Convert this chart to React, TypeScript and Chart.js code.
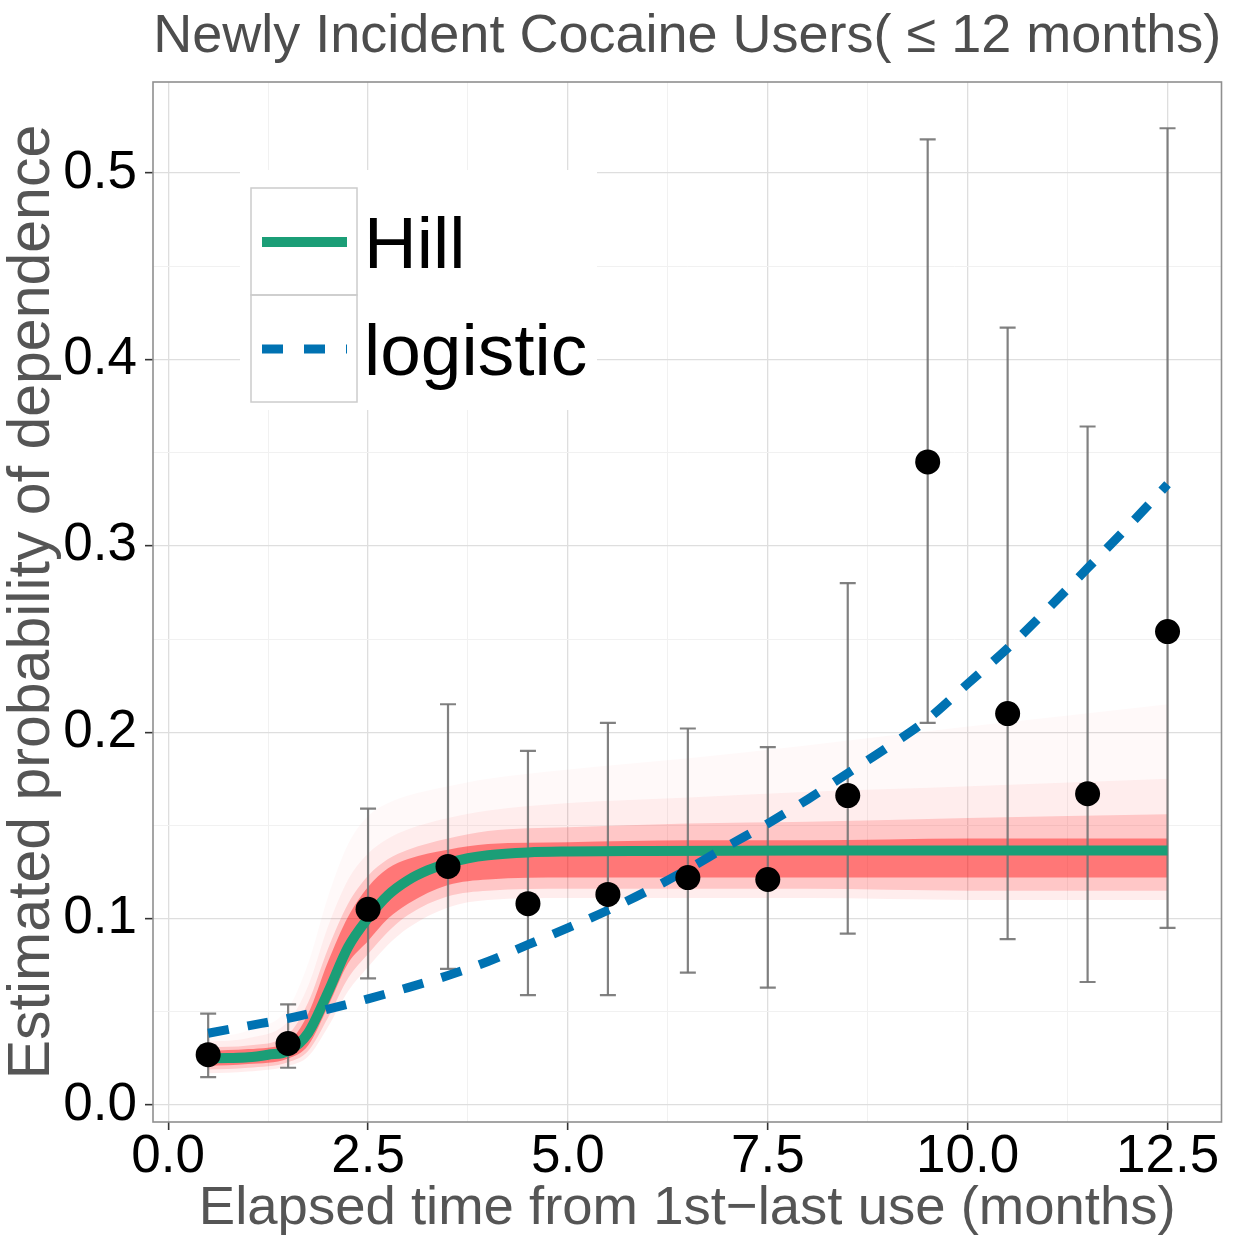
import React, { useEffect, useRef } from "react";
import { Chart, registerables } from "chart.js";

Chart.register(...registerables);

const FONT = "'Liberation Sans', Arial, Helvetica, sans-serif";

const TITLE = "Newly Incident Cocaine Users( \u2264 12 months)";
const X_TITLE = "Elapsed time from 1st\u2212last use (months)";
const Y_TITLE = "Estimated probability of dependence";

// observed proportions with error bars
const pointX = [0.5, 1.5, 2.5, 3.5, 4.5, 5.5, 6.5, 7.5, 8.5, 9.5, 10.5, 11.5, 12.5];
const pointY = [0.027, 0.033, 0.105, 0.128, 0.108, 0.113, 0.122, 0.121, 0.166, 0.345, 0.21, 0.167, 0.254];
const errLow = [0.015, 0.02, 0.068, 0.073, 0.059, 0.059, 0.071, 0.063, 0.092, 0.205, 0.089, 0.066, 0.095];
const errHigh = [0.049, 0.054, 0.159, 0.215, 0.19, 0.205, 0.202, 0.192, 0.28, 0.518, 0.417, 0.364, 0.524];

// Hill fit
const hillX = [0.5, 0.75, 1.0, 1.25, 1.5, 1.75, 2.0, 2.25, 2.5, 2.75, 3.0, 3.25, 3.5, 3.75, 4.0, 4.5, 5.0, 6.0, 8.0, 10.0, 12.5];
const hillY = [0.025, 0.0252, 0.0256, 0.027, 0.029, 0.0386, 0.0606, 0.0847, 0.1003, 0.1126, 0.1206, 0.126, 0.1297, 0.1324, 0.134, 0.1355, 0.136, 0.1363, 0.1365, 0.1365, 0.1365];

// logistic fit
const logX = [0.5, 1.0, 1.5, 2.0, 2.5, 3.0, 3.5, 4.0, 4.5, 5.0, 5.5, 6.0, 6.5, 7.0, 7.5, 8.0, 8.5, 9.0, 9.5, 10.0, 10.5, 11.0, 11.5, 12.0, 12.5];
const logY = [0.0385, 0.0425, 0.0465, 0.0515, 0.057, 0.063, 0.0695, 0.077, 0.086, 0.095, 0.1045, 0.115, 0.1265, 0.139, 0.151, 0.164, 0.178, 0.192, 0.207, 0.226, 0.245, 0.266, 0.288, 0.31, 0.333];

// posterior draw bands (red cloud)
const bandX = [0.5, 1.0, 1.5, 1.75, 2.0, 2.25, 2.5, 2.75, 3.0, 3.5, 4.0, 5.0, 6.5, 8.0, 10.0, 12.5];
const coreLow = [0.021, 0.022, 0.025, 0.032, 0.053, 0.076, 0.088, 0.1, 0.108, 0.118, 0.121, 0.122, 0.122, 0.122, 0.122, 0.122];
const coreHigh = [0.029, 0.03, 0.034, 0.049, 0.077, 0.101, 0.117, 0.127, 0.132, 0.137, 0.14, 0.141, 0.142, 0.142, 0.143, 0.143];
const midLow = [0.019, 0.02, 0.023, 0.029, 0.047, 0.068, 0.081, 0.093, 0.102, 0.112, 0.115, 0.116, 0.116, 0.116, 0.115, 0.115];
const midHigh = [0.031, 0.032, 0.038, 0.055, 0.084, 0.108, 0.123, 0.132, 0.137, 0.143, 0.147, 0.149, 0.151, 0.152, 0.154, 0.156];
const outerLow = [0.017, 0.018, 0.021, 0.026, 0.042, 0.061, 0.074, 0.086, 0.095, 0.106, 0.11, 0.111, 0.111, 0.111, 0.11, 0.11];
const outerHigh = [0.034, 0.036, 0.045, 0.064, 0.096, 0.121, 0.135, 0.143, 0.148, 0.154, 0.158, 0.162, 0.165, 0.168, 0.171, 0.175];
const faintHigh = [0.036, 0.04, 0.052, 0.076, 0.112, 0.14, 0.155, 0.162, 0.166, 0.171, 0.175, 0.18, 0.186, 0.193, 0.203, 0.215];

// axis tick settings
const xMajorStep = 2.5;
const yMajorStep = 0.1;
const X_MIN = -0.19;
const X_MAX = 13.175;
const Y_MIN = -0.0091;
const Y_MAX = 0.5488;

const xy = (xs: number[], ys: (number | null)[]) => xs.map((x, i) => ({ x, y: ys[i] }));
const isMult = (v: number, step: number) => Math.abs(v / step - Math.round(v / step)) < 1e-6;

const ggPlugin = {
  id: "ggDecor",
  beforeDraw(chart: any) {
    const c = chart.ctx;
    c.save();
    c.fillStyle = "#ffffff";
    c.fillRect(0, 0, chart.width, chart.height);
    c.restore();
  },
  afterDraw(chart: any) {
    const { ctx, chartArea: ca } = chart;
    ctx.save();
    // legend
    const items = chart.data.datasets.filter((d: any) => d.inLegend);
    const bgX = ca.left + 87;
    const bgY = ca.top + 88;
    ctx.fillStyle = "#ffffff";
    ctx.fillRect(bgX, bgY, 357, 240);
    const lx = ca.left + 98;
    const ly = ca.top + 106;
    const cw = 106;
    const ch = 107;
    items.forEach((d: any, i: number) => {
      const top = ly + i * ch;
      ctx.strokeStyle = "#cccccc";
      ctx.lineWidth = 1.5;
      ctx.setLineDash([]);
      ctx.strokeRect(lx, top, cw, ch);
      ctx.strokeStyle = d.borderColor;
      ctx.lineWidth = d.borderWidth;
      ctx.setLineDash(d.legendDash || []);
      ctx.lineCap = "butt";
      ctx.beginPath();
      ctx.moveTo(lx + 11, top + 54);
      ctx.lineTo(lx + 96, top + 54);
      ctx.stroke();
      ctx.setLineDash([]);
      ctx.fillStyle = "#000000";
      ctx.font = `73px ${FONT}`;
      ctx.textAlign = "left";
      ctx.textBaseline = "alphabetic";
      ctx.fillText(d.label, lx + cw + 7, top + 80);
    });
    // panel border
    ctx.strokeStyle = "#8f8f8f";
    ctx.lineWidth = 1.6;
    ctx.strokeRect(ca.left, ca.top, ca.right - ca.left, ca.bottom - ca.top);
    // title
    ctx.font = `54px ${FONT}`;
    ctx.fillStyle = "#4d4d4d";
    ctx.textAlign = "center";
    ctx.textBaseline = "alphabetic";
    ctx.fillText(TITLE, (ca.left + ca.right) / 2, ca.top - 30);
    ctx.restore();
  },
};

export default function App() {
  const ref = useRef<HTMLCanvasElement | null>(null);

  useEffect(() => {
    document.body.style.margin = "0";
    const canvas = ref.current;
    if (!canvas) return;

    const band = (ys: number[], fill: any, color: string, order: number) => ({
      type: "line",
      data: xy(bandX, ys),
      borderColor: "rgba(0,0,0,0)",
      borderWidth: 1,
      pointRadius: 0,
      fill,
      backgroundColor: color,
      cubicInterpolationMode: "monotone",
      order,
    });

    const errSegs = pointX.flatMap((x, i) => [
      { x, y: errLow[i] },
      { x, y: errHigh[i] },
      { x, y: null },
    ]);
    const capPts = pointX.flatMap((x, i) => [
      { x, y: errLow[i] },
      { x, y: errHigh[i] },
    ]);

    const datasets: any[] = [
      band(outerLow, false, "rgba(0,0,0,0)", 30), // 0
      band(outerHigh, 0, "rgba(255,0,0,0.07)", 29), // 1
      band(faintHigh, 1, "rgba(255,0,0,0.025)", 28), // 2
      band(midLow, false, "rgba(0,0,0,0)", 27), // 3
      band(midHigh, 3, "rgba(255,0,0,0.16)", 26), // 4
      band(coreLow, false, "rgba(0,0,0,0)", 25), // 5
      band(coreHigh, 5, "rgba(255,0,0,0.4)", 24), // 6
      {
        type: "line",
        data: errSegs,
        borderColor: "rgba(115,115,115,0.9)",
        borderWidth: 2.2,
        pointRadius: 0,
        spanGaps: false,
        fill: false,
        order: 10,
      },
      {
        type: "scatter",
        data: capPts,
        pointStyle: "line",
        pointRadius: 8,
        borderColor: "rgba(115,115,115,0.9)",
        borderWidth: 2.2,
        order: 10,
      },
      {
        type: "line",
        label: "Hill",
        inLegend: true,
        data: xy(hillX, hillY),
        borderColor: "#1B9E77",
        borderWidth: 10,
        pointRadius: 0,
        fill: false,
        cubicInterpolationMode: "monotone",
        borderJoinStyle: "round",
        order: 4,
      },
      {
        type: "line",
        label: "logistic",
        inLegend: true,
        data: xy(logX, logY),
        borderColor: "#0072B2",
        borderWidth: 9,
        borderDash: [21, 19],
        legendDash: [21, 21],
        pointRadius: 0,
        fill: false,
        cubicInterpolationMode: "monotone",
        order: 3,
      },
      {
        type: "scatter",
        data: xy(pointX, pointY),
        pointRadius: 12.5,
        backgroundColor: "#000000",
        borderColor: "#000000",
        borderWidth: 0,
        order: 1,
      },
    ];

    const chart = new Chart(canvas, {
      type: "line",
      data: { datasets },
      plugins: [ggPlugin],
      options: {
        responsive: false,
        animation: false,
        events: [],
        layout: { padding: { top: 82, right: 12, left: 0, bottom: 0 } },
        plugins: {
          legend: { display: false },
          tooltip: { enabled: false },
          title: { display: false },
        },
        scales: {
          x: {
            type: "linear",
            min: X_MIN,
            max: X_MAX,
            afterFit: (s: any) => {
              s.height = 117;
            },
            border: { display: false },
            grid: {
              color: (c: any) => (isMult(c.tick.value, xMajorStep) ? "#dedede" : "#f1f1f1"),
              lineWidth: (c: any) => (isMult(c.tick.value, xMajorStep) ? 1.3 : 1),
              tickLength: 8,
              tickWidth: 1.6,
              tickColor: (c: any) => (isMult(c.tick.value, xMajorStep) ? "#333333" : "rgba(0,0,0,0)"),
            },
            ticks: {
              stepSize: xMajorStep / 2,
              includeBounds: false,
              autoSkip: false,
              maxRotation: 0,
              minRotation: 0,
              padding: 1,
              color: "#000000",
              font: { family: FONT, size: 53, lineHeight: 1 },
              callback: (v: any) => (isMult(Number(v), xMajorStep) ? Number(v).toFixed(1) : ""),
            },
            title: {
              display: true,
              text: X_TITLE,
              color: "#555555",
              font: { family: FONT, size: 54.5, lineHeight: 1 },
              padding: { top: 0, bottom: 3 },
            },
          },
          y: {
            type: "linear",
            min: Y_MIN,
            max: Y_MAX,
            afterFit: (s: any) => {
              s.width = 153;
            },
            border: { display: false },
            grid: {
              color: (c: any) => (isMult(c.tick.value, yMajorStep) ? "#dedede" : "#f1f1f1"),
              lineWidth: (c: any) => (isMult(c.tick.value, yMajorStep) ? 1.3 : 1),
              tickLength: 8,
              tickWidth: 1.6,
              tickColor: (c: any) => (isMult(c.tick.value, yMajorStep) ? "#333333" : "rgba(0,0,0,0)"),
            },
            ticks: {
              stepSize: yMajorStep / 2,
              includeBounds: false,
              autoSkip: false,
              padding: 8,
              color: "#000000",
              font: { family: FONT, size: 53, lineHeight: 1 },
              callback: (v: any) => (isMult(Number(v), yMajorStep) ? Number(v).toFixed(1) : ""),
            },
            title: {
              display: true,
              text: Y_TITLE,
              color: "#555555",
              font: { family: FONT, size: 59, lineHeight: 1 },
              padding: { top: 3, bottom: 0 },
            },
          },
        },
      } as any,
    } as any);

    return () => chart.destroy();
  }, []);

  return (
    <div style={{ width: 1234, height: 1239 }}>
      <canvas ref={ref} width={1234} height={1239} style={{ display: "block" }} />
    </div>
  );
}
